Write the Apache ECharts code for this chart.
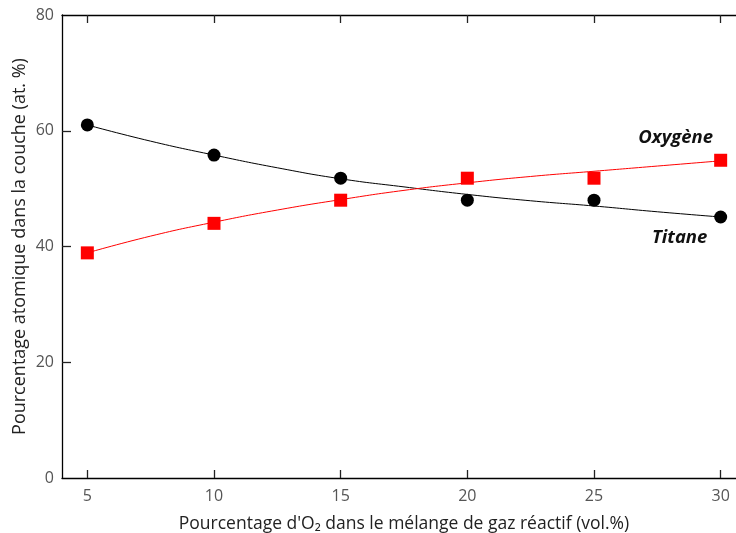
<!DOCTYPE html>
<html><head><meta charset="utf-8">
<script src="https://cdn.jsdelivr.net/npm/echarts@6/dist/echarts.min.js"></script>
<style>html,body{margin:0;padding:0;background:#fff}#c{width:736px;height:533px}</style>
</head><body><div id="c"></div>
<script>
const xTicks = [5, 10, 15, 20, 25, 30];
const yTicks = [0, 20, 40, 60, 80];
const o2 = [5, 10, 15, 20, 25, 30];
const oxygenMeasured = [61.0, 55.8, 51.8, 48.0, 48.0, 45.1];
const titaneMeasured = [38.9, 44.0, 48.0, 51.8, 51.8, 54.9];
const fitX = [5, 7.5, 10, 12.5, 15, 17.5, 20, 22.5, 25, 27.5, 30];
const oxygenFit = [61.0, 58.2, 55.8, 53.6, 51.7, 50.3, 49.0, 47.9, 47.0, 46.0, 45.1];
const titaneFit = [38.9, 41.8, 44.2, 46.3, 48.1, 49.7, 51.0, 52.1, 53.0, 53.9, 54.8];
const labelOxygen = 'Oxygène';
const labelTitane = 'Titane';
const xTitle = "Pourcentage d'O₂ dans le mélange de gaz réactif (vol.%)";
const yTitle = 'Pourcentage atomique dans la couche (at. %)';

const zip = (a, b) => a.map((v, i) => [v, b[i]]);
const font = 'Open Sans';
const tagStyle = {fontFamily: font, fontSize: 18.5, fontWeight: 'bold', fontStyle: 'italic', color: '#111',
  align: 'center', verticalAlign: 'middle', distance: 0};
const tickStyle = {color: '#222', width: 1.3};

const chart = echarts.init(document.getElementById('c'), null, {renderer: 'canvas'});
chart.setOption({
  animation: false,
  grid: {left: 62, right: -10, top: 15, bottom: 55, containLabel: false, outerBoundsMode: 'none'},
  xAxis: [{
    type: 'value', min: 4, max: 31,
    name: xTitle, nameLocation: 'middle', nameGap: 37,
    nameTextStyle: {fontFamily: font, fontSize: 17.5, color: '#222'},
    axisLine: {show: true, onZero: false, lineStyle: {color: '#000', width: 1.3}},
    axisTick: {show: true, inside: true, length: 8, customValues: xTicks, lineStyle: tickStyle},
    axisLabel: {customValues: xTicks, fontFamily: font, fontSize: 16, color: '#555', margin: 10},
    splitLine: {show: false}
  }, {
    type: 'value', min: 4, max: 31, position: 'top',
    axisLine: {show: true, onZero: false, lineStyle: {color: '#000', width: 1.3}},
    axisTick: {show: true, inside: true, length: 8, customValues: xTicks, lineStyle: tickStyle},
    axisLabel: {show: false}, splitLine: {show: false}
  }],
  yAxis: {
    type: 'value', min: 0, max: 80, interval: 20,
    name: yTitle, nameLocation: 'middle', nameGap: 33, nameMoveOverlap: false,
    nameTextStyle: {fontFamily: font, fontSize: 18, color: '#222'},
    axisLine: {show: true, onZero: false, lineStyle: {color: '#000', width: 1.3}},
    axisTick: {show: true, inside: true, length: 9, customValues: [20, 40, 60], lineStyle: tickStyle},
    axisLabel: {customValues: yTicks, fontFamily: font, fontSize: 16, color: '#555', margin: 8},
    splitLine: {show: false}
  },
  series: [{
    type: 'line', data: zip(fitX, oxygenFit), smooth: true, showSymbol: false,
    lineStyle: {color: '#000', width: 1}, z: 2,
    endLabel: Object.assign({show: true, formatter: labelTitane, offset: [-41, 21]}, tagStyle)
  }, {
    type: 'line', data: zip(fitX, titaneFit), smooth: true, showSymbol: false,
    lineStyle: {color: '#ff0000', width: 1}, z: 2,
    endLabel: Object.assign({show: true, formatter: labelOxygen, offset: [-45, -23]}, tagStyle)
  }, {
    type: 'scatter', data: zip(o2, oxygenMeasured), symbol: 'circle', symbolSize: 13,
    itemStyle: {color: '#000', opacity: 1}, z: 3
  }, {
    type: 'scatter', data: zip(o2, titaneMeasured), symbol: 'rect', symbolSize: 13,
    itemStyle: {color: '#ff0000', opacity: 1}, z: 3
  }]
});
</script></body></html>
